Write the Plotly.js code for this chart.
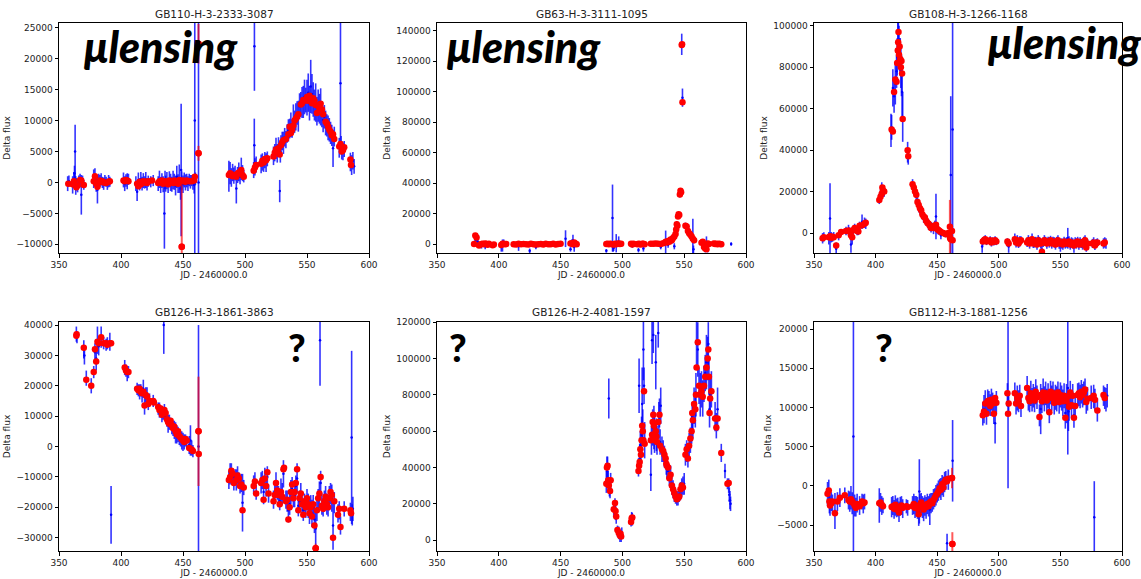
<!DOCTYPE html>
<html>
<head>
<meta charset="utf-8">
<script src="https://cdn.plot.ly/plotly-3.0.1.min.js"></script>
<style>html,body{margin:0;padding:0;background:#fff;}#chart{width:1141px;height:579px;}</style>
</head>
<body>
<div id="chart"></div>
<script>
// ---------- DATA : [JD-2460000, delta flux, error] ----------
const titles = ["GB110-H-3-2333-3087","GB63-H-3-3111-1095","GB108-H-3-1266-1168","GB126-H-3-1861-3863","GB126-H-2-4081-1597","GB112-H-3-1881-1256"];
const xTicks = [350,400,450,500,550,600];
const yDticks = [5000,20000,20000,10000,20000,5000];
const yRanges = [[-11400,25750],[-5900,145000],[-9600,101300],[-34400,41000],[-6000,120100],[-8300,20900]];
const labels = ["μlensing","μlensing","μlensing","?","?","?"];

const p1Blue = [[357,-200,1200],[358,200,900],[361,-400,1400],[362,400,1300],[362.5,1500,1200],[363,5000,4300],[363.5,-500,1500],[364,-300,1000],[365,-700,900],[366,200,900],[367,300,1100],[368,-2000,3200],[369,200,900],[370,-400,800],[378,600,1500],[379,1000,1300],[380,-300,1200],[381,-1200,2200],[382,300,1100],[383,200,1000],[384,500,1000],[385,0,900],[386,-200,1000],[387,300,900],[388,100,800],[389,-300,900],[390,200,1000],[391,100,800],[402,400,1200],[403,-200,1200],[404,300,1000],[405,200,1300],[406,500,900],[412,-200,1200],[413,-1500,1500],[414,300,1300],[415,-300,1000],[416,500,1200],[417,-200,1100],[418,300,1200],[419,0,1000],[420,400,1300],[421,-300,1000],[422,200,900],[424,100,900],[426,300,900],[430,-200,1200],[431,500,1400],[432,-400,1300],[433,300,1200],[434,-300,1300],[435,-5000,5700],[435.5,400,1500],[436,-200,1300],[437,300,1400],[438,-500,1200],[439,500,1300],[440,0,1400],[441,-300,1200],[442,400,1500],[443,100,1300],[444,-500,1600],[445,900,1800],[446,-200,1500],[447,600,2300],[448,-1000,1800],[448.5,2000,10700],[449,300,1500],[450,-300,1400],[451,400,1200],[452,0,1300],[453,300,1100],[454,-200,1200],[455,400,1000],[456,100,1100],[457,300,900],[458,0,1200],[459,-400,1400],[459.5,10000,25000],[460,600,1000],[462.5,0,30000],[487,1000,2500],[488,1500,1800],[489,800,1500],[490,1600,1400],[491,1100,1300],[492,1500,1200],[493,-1000,2400],[494,1200,1300],[495,1700,1500],[496,900,1200],[497,2200,1800],[498,1500,1300],[499,1000,1000],[507,2000,1300],[507.5,6000,4300],[507.6,22000,7200],[508,2500,1400],[509,2900,1300],[513,3000,1500],[514,3300,1400],[515,2900,1200],[516,3600,1300],[517,3200,1500],[518,3800,1200],[523,4300,1500],[524,4800,1400],[525,5500,1700],[526,4700,1500],[527,5700,1600],[528,-1400,1800],[528.5,4900,1700],[529,6100,1500],[530,6700,1500],[531,6400,1800],[532,7300,1500],[533,6900,1400],[534,7900,1500],[535,8400,1800],[536,8700,1600],[537,9300,2000],[538,8700,1500],[539,10200,2400],[540,9800,1800],[541,10600,2200],[542,11200,1900],[543,10700,2500],[544,12300,2100],[545,12600,2000],[546,12900,2500],[547,13000,2600],[548,13800,2800],[549,13300,2000],[550,13700,2900],[551,14500,3100],[552,12800,2800],[553,15500,4300],[554,14300,3200],[555,13400,2800],[556,12500,2500],[557,12900,3100],[558,11500,2300],[559,12400,2600],[560,11900,2400],[561,12200,3000],[562,11000,2100],[563,10100,2000],[564,10600,1900],[565,9600,2000],[566,9200,1800],[567,8800,2000],[568,8500,1900],[569,8000,1800],[570,7600,1700],[571,5500,3000],[572,7400,1600],[576,5600,1600],[577,16000,11000],[577.5,6000,1500],[578,5200,1500],[579,5000,1400],[580,5400,1300],[585,3300,1500],[586,2800,1600],[587,3500,1400],[588,2600,1200]];
const p1Red = [[357.5,-200],[361,-300],[362,200],[363,-400],[364,-800],[365,-500],[367,400],[368,300],[370,-400],[378,200],[379,1000],[380,-200],[381,-700],[382,0],[383,300],[385,200],[386,0],[388,-100],[390,100],[391,200],[402,300],[403,200],[404,400],[405,300],[406,200],[413,-200],[414,-600],[415,100],[416,-300],[418,200],[419,0],[420,100],[421,-100],[422,200],[425,300],[430,-100],[431,200],[432,0],[433,300],[434,-200],[435,100],[436,200],[437,0],[438,-300],[439,300],[440,100],[441,200],[442,-100],[443,300],[444,0],[445,200],[446,-200],[447,400],[448,100],[449,-10400],[450,300],[451,200],[452,100],[453,300],[455,200],[457,200],[459,300],[459.5,900],[462.5,4700],[462.5,22400],[487,1200],[488,1500],[489,1300],[490,1000],[492,1200],[493,900],[494,1400],[495,1600],[497,2000],[498,1200],[499,900],[507,1900],[508,2400],[509,2800],[513,3000],[514,3500],[515,3200],[516,3800],[517,3600],[518,3900],[523,4200],[524,4800],[525,5300],[526,5000],[527,5500],[528,4500],[529,6000],[530,6500],[531,6800],[533,7000],[535,7800],[536,9000],[537,8000],[538,8500],[539,9200],[540,10000],[541,10300],[542,10600],[543,11000],[545,12600],[546,12800],[547,13300],[548,13200],[550,13800],[551,13200],[552,14000],[553,13500],[554,12800],[555,13600],[556,13200],[557,12500],[558,11200],[559,12400],[560,12000],[561,12700],[562,11800],[563,11000],[565,9800],[566,9500],[567,9000],[568,8500],[569,8200],[570,7600],[571,7800],[572,7000],[576,5800],[577,6200],[578,5000],[579,5200],[580,5700],[585,3700],[585.5,2800]];
const p1RedBars = [[449,-10400,10000],[462.5,22400,3200],[462.5,4700,1200]];

const p2Blue = [[380,0,800],[381,3000,1500],[382,2500,1500],[383,1500,2500],[384,-1000,1200],[385,-500,1000],[386,-1000,2000],[387,0,1500],[388,-500,1500],[389,-1500,2000],[390,0,2000],[391,-800,1200],[392,0,1000],[395,-800,1000],[396,-300,900],[402,-2000,3000],[403,-1000,4000],[404,500,2500],[405,0,1200],[406,-300,1000],[412,-300,1000],[414,-600,1200],[416,-1500,3000],[418,200,1500],[420,-300,1000],[422,-500,1000],[424,-200,900],[425,-4500,1500],[426,0,1000],[428,-300,900],[430,-2000,1500],[432,-300,1000],[434,0,900],[436,-500,1000],[438,200,900],[440,-300,900],[442,-500,1000],[444,0,900],[446,-300,800],[448,200,800],[450,0,900],[454,3500,5500],[458,-3500,1500],[459,1000,2000],[460,2500,3500],[461,-2000,3000],[462,500,2000],[463,-300,1200],[487,-4500,1200],[488,0,1000],[489,-500,1200],[490,200,1000],[491,-300,1500],[492,17000,22000],[492.5,-2000,3000],[493,-2500,2000],[494,300,1200],[495,500,6000],[496,-300,1200],[497,1500,3500],[498,-500,1200],[499,200,1000],[507,300,1200],[508,-1000,1500],[509,0,1000],[512,-500,1000],[513,-4000,1500],[514,0,1200],[515,-500,1000],[516,300,1000],[517,-3000,2000],[518,0,1000],[523,100,1000],[525,300,1000],[527,0,1200],[529,200,1000],[531,-2000,1500],[533,400,1200],[535,800,8000],[536,1200,1500],[537,-500,2000],[538,1500,1500],[539,3200,1800],[540,2000,1800],[541,3800,1500],[542,-1500,2000],[543,6000,2500],[544,13000,2000],[545,18500,2000],[546,19500,1500],[546.5,33000,2500],[547,34500,2000],[548,131000,7000],[548.6,96000,6000],[551,12500,1500],[552,11000,2000],[553,9000,3000],[554,7500,2000],[555,6000,2500],[556,4500,2500],[557,4500,12000],[557.5,-3500,2500],[558,2000,1500],[564,1000,1500],[565,1200,1800],[566,-1500,2000],[567,-2500,3000],[568,0,5000],[569,-3000,2500],[570,300,1200],[574,200,1000],[576,0,1000],[578,200,1000],[580,-200,1000],[588,0,1200]];
const p2Red = [[380,0],[381,5500],[382,4200],[384,-1000],[385,-300],[386,0],[387,100],[388,-200],[389,300],[390,0],[391,-500],[392,100],[395,-800],[396,-300],[402,-700],[403,100],[404,200],[405,-100],[406,0],[412,-100],[414,-300],[416,200],[418,-100],[420,0],[422,-200],[424,-300],[426,100],[428,-200],[430,-300],[432,-100],[434,0],[436,-300],[438,200],[440,-100],[442,-200],[444,100],[446,-300],[448,0],[450,200],[458,300],[459,500],[460,-200],[461,1000],[462,400],[463,-100],[487,0],[488,100],[489,-200],[490,200],[491,0],[492,-100],[493,-300],[494,100],[495,-100],[496,200],[497,300],[498,0],[499,200],[507,100],[508,-400],[509,200],[512,-200],[513,100],[514,0],[515,-300],[516,200],[517,100],[518,-200],[523,100],[525,200],[527,300],[529,100],[531,0],[533,500],[535,1500],[536,1000],[537,2000],[538,1500],[539,3000],[540,2500],[541,4000],[542,5000],[543,6500],[543.5,9500],[544,13000],[544.5,12000],[545,18000],[545.5,19500],[546,19000],[546.5,32500],[547,35000],[547.5,34000],[548,130500],[548.3,131000],[548.6,93000],[551,12000],[552,11500],[553,8500],[554,7000],[555,6000],[556,5000],[557,3500],[558,2500],[564,800],[565,1500],[566,-2000],[567,-3000],[568,-3500],[569,300],[570,0],[574,300],[575,0],[576,200],[577,-100],[578,100],[579,0],[580,-200]];
const p2RedBars = [];

const p3Blue = [[357,-2500,2500],[358,-1800,2200],[362,-2500,3000],[363,7000,17000],[364,-2000,2500],[365,-2200,2000],[366,-1500,2000],[368,-7500,3000],[370,-1500,2000],[372,300,1500],[376,1000,2000],[378,1500,2500],[379,700,2000],[380,-5500,4000],[381,-2500,3000],[382,1500,2000],[383,2500,2000],[385,1200,2200],[386,1000,2000],[387,3000,2500],[389,5500,3500],[391,5000,2500],[392,4500,2500],[403,16500,2500],[404,18000,3000],[405,21500,3000],[406,20000,2500],[407,19500,2000],[412.5,49500,8000],[413,51000,6000],[414,70000,9000],[415,66000,8000],[416,72000,10000],[417,78000,8000],[417.5,85000,9000],[418,92000,10000],[418.5,96000,9000],[419,90000,10000],[419.5,86000,8000],[420,85000,9000],[420.5,80000,10000],[421,76000,10000],[421.5,68000,12000],[422,56000,12000],[426,39000,5000],[426.5,37000,4000],[430,23500,2500],[431,21500,3000],[432,20000,2500],[433,17500,3000],[434,15500,2500],[435,13000,3000],[436,11500,2500],[437,10500,2500],[438,9000,2500],[439,7500,2500],[440,7000,2000],[441,6000,2500],[442,5200,2000],[443,4000,2500],[444,3500,2000],[445,2800,2500],[446,3000,2000],[447,2000,2500],[448,3500,2500],[449,8000,11000],[450,1800,2000],[451,1200,2000],[452,800,1500],[453,-1000,2000],[455,-200,1500],[457,-500,1500],[459,-300,1500],[461,28000,38000],[462.5,50000,60000],[486.5,-6500,3000],[487,-4000,2000],[488,-3500,1800],[489,-3000,2000],[490,-4000,1800],[493,-3500,2000],[494,-4500,2000],[495,-3800,1800],[496,-4200,1800],[497,-3500,2000],[498,-4000,1800],[507,-4500,2000],[508,-6500,3000],[513,-3000,2800],[514,-4500,2500],[515,-3500,2500],[516,-5000,2200],[517,-4000,2500],[518,-3500,2000],[523,-4500,2200],[524,-3500,2500],[525,-5000,2500],[526,-4000,2200],[527,-3000,2800],[528,-5000,2200],[529,-4500,2500],[530,-4000,2200],[531,-5500,2500],[532,-3500,2500],[533,-4000,2200],[534,-5000,2500],[535,-8000,2500],[536,-4500,2200],[537,-3500,2500],[538,-4000,2200],[539,-5000,2500],[540,-4000,2200],[541,-4500,2500],[542,-3500,2200],[543,-5000,2500],[544,-4000,2200],[545,-4500,2500],[546,-5500,2500],[547,-4000,2200],[548,-3500,2500],[549,-5000,2500],[550,-6000,3000],[551,-5000,2500],[552,-5500,2500],[553,-4000,2200],[554,-5000,2500],[555,-4500,2500],[556,-2500,5000],[557,-4000,2500],[558,-5500,2500],[559,-4500,2500],[560,-5000,2500],[561,-6500,3000],[562,-4500,2500],[563,-5000,2500],[564,-4000,2200],[565,-5500,2500],[566,-4500,2500],[567,-5000,2200],[568,-5500,2500],[569,-4000,2200],[570,-3500,2500],[571,-6000,3000],[572,-5000,2200],[576,-5000,2200],[577,-4500,2500],[578,-6000,2200],[579,-5000,2200],[580,-4500,2000],[585,-5000,2500],[586,-4500,2500],[587,-5000,2500]];
const p3Red = [[357,-2500],[358,-2000],[362,-2000],[363,-1500],[364,-2200],[365,-1800],[366,-2000],[368,-6000],[370,-1000],[372,500],[376,1000],[378,1200],[379,800],[380,-1000],[381,-2000],[382,1500],[383,2500],[385,1000],[386,800],[387,3500],[389,3800],[391,4500],[392,5000],[403,16000],[404,17500],[405,19000],[405.5,22000],[406,20500],[407,20000],[413,50000],[414,49000],[415,68000],[416,74000],[417,73000],[417.5,82000],[418,88000],[418.3,92000],[418.6,97000],[419,86000],[419.5,90000],[420,84000],[420.5,80000],[421,83000],[421.5,77000],[422,55000],[426,40000],[426.5,37000],[430,23500],[431,22000],[432,20000],[433,18500],[434,15000],[435,13500],[436,12000],[437,11000],[438,9000],[439,8000],[440,7500],[441,6000],[442,5000],[443,4500],[444,3500],[445,2500],[446,3000],[447,2500],[448,3500],[449,4000],[450,2000],[451,1500],[452,1000],[453,500],[455,0],[457,-500],[459,0],[460,-1000],[460.5,-2500],[461,-3000],[462,1000],[462.5,-3500],[487,-4000],[488,-3500],[489,-3000],[490,-4000],[493,-3500],[494,-4500],[495,-3800],[496,-4200],[497,-3500],[498,-4000],[507,-4000],[508,-5000],[513,-3000],[514,-4500],[515,-3500],[516,-5000],[517,-4000],[518,-3500],[523,-4500],[524,-3500],[525,-5000],[526,-4000],[527,-3000],[528,-5000],[529,-4500],[530,-4000],[531,-5500],[532,-3500],[533,-4000],[534,-5000],[535,-9000],[536,-4500],[537,-3500],[538,-4000],[539,-5000],[540,-4000],[541,-4500],[542,-3500],[543,-5000],[544,-4000],[545,-4500],[546,-5500],[547,-4000],[548,-3500],[549,-5000],[550,-4500],[551,-5000],[552,-5500],[553,-4000],[554,-5000],[555,-4500],[556,-5000],[557,-4000],[558,-5500],[559,-4500],[560,-5000],[561,-6000],[562,-4500],[563,-5000],[564,-4000],[565,-5500],[566,-4500],[567,-5000],[568,-5500],[569,-4000],[570,-3500],[571,-7000],[572,-5000],[576,-5000],[577,-4500],[578,-6000],[579,-5000],[580,-4500],[585,-5000],[586,-4500]];
const p3RedBars = [[460.3,3000,13000]];

const p4Blue = [[364,37000,2500],[364.5,36000,2000],[370,32000,3000],[370.5,30000,3000],[372,22500,2500],[376,20000,2500],[378,24500,2000],[379,31000,3000],[380,29000,4000],[381,35000,4500],[382,33000,3000],[384,36000,3500],[386,34000,2000],[388,33500,2000],[389,34000,2000],[391,34500,3000],[392,-22500,9500],[403,26000,2500],[404,25000,2000],[405,24000,2500],[406,24500,2000],[413,19000,2000],[414,18500,2000],[415,18000,2500],[416,18500,2000],[417,17000,2500],[418,19000,3000],[419,14000,3500],[420,17000,2500],[421,16500,3000],[422,14500,2500],[423,15500,2000],[426,15000,2000],[430,12500,2000],[431,12000,2500],[432,11500,2000],[433,10500,2500],[434,10800,2000],[434.5,40000,9500],[435,11500,2500],[436,10000,2000],[437,9000,2500],[438,7500,3000],[439,8000,2500],[440,7500,2000],[441,6500,2500],[442,6000,2500],[443,5500,3000],[444,4500,3500],[445,4000,3000],[446,4000,2500],[447,3000,2500],[448,2500,2500],[449,2000,3000],[450,1500,3000],[451,1500,2500],[452,2000,2000],[453,1500,2000],[455,500,3000],[456,2000,5000],[457,-500,2500],[458,-1500,2000],[462.5,0,40000],[487,-11000,3000],[488,-9000,3500],[489,-8500,3000],[490,-10000,2500],[491,-11500,3000],[492,-10000,2500],[493,-11000,3500],[494,-9500,3000],[495,-11000,2500],[496,-12500,3000],[497,-12000,3000],[498,-18500,9500],[499,-13500,2500],[507,-12500,3000],[508,-11000,2500],[509,-15000,2500],[513,-12000,3500],[514,-11000,3000],[515,-15000,4000],[516,-10500,3500],[517,-13000,3500],[518,-10000,3500],[519,-15500,3000],[523,-17500,3000],[524,-15500,3500],[525,-12500,4000],[526,-14500,3000],[527,-16500,3500],[528,-18000,3000],[529,-14500,4000],[530,-15500,3500],[531,-9000,4500],[533,-17500,3000],[534,-18000,3500],[535,-21000,4000],[536,-19000,3500],[537,-15000,4000],[538,-14000,4000],[539,-17000,3000],[540,-16000,4000],[541,-13000,3500],[542,-10500,5000],[543,-19500,3500],[544,-18000,3500],[545,-16000,4000],[546,-19500,3500],[547,-21000,3500],[548,-18500,3000],[549,-20000,3500],[550,-17500,3500],[551,-19500,4000],[552,-21500,4000],[553,-19500,3500],[554,-22000,4500],[555,-20000,4000],[556,-24000,4500],[557,-27000,6000],[558,-20500,4000],[559,-17500,3500],[560,-16000,4500],[560.5,35000,15000],[561,-12000,4000],[562,-19000,3500],[563,-20000,3000],[564,-18000,3500],[565,-17000,4000],[566,-19000,3500],[567,-19500,3500],[568,-17000,4000],[569,-15500,3500],[570,-17000,4500],[571,-26000,8000],[572,-18500,3500],[575,-22000,3000],[576,-21000,3000],[577,-26000,3000],[580,-20500,2500],[585,-21500,3000],[586,3000,28500],[586.5,-22500,3500],[587,-20500,4000]];
const p4Red = [[364,36500],[364.2,37000],[370,32500],[372,22000],[376,20000],[378,24500],[379,32000],[380,28000],[381,34500],[382,34000],[384,36000],[386,34000],[388,34000],[389,33500],[391,34000],[392,34000],[403,26000],[404,25000],[405,24500],[406,24500],[413,19000],[414,18500],[415,19000],[416,18000],[417,17500],[418,18000],[419,13500],[420,17000],[421,16500],[422,14000],[423,15000],[426,15000],[426.5,14500],[430,13000],[431,12000],[432,12500],[433,10500],[434,11000],[435,12000],[436,11000],[437,9000],[438,8000],[439,7500],[440,8500],[441,7000],[442,6000],[443,6500],[444,5000],[445,4000],[446,5000],[447,3500],[448,3000],[449,2500],[450,2000],[451,1500],[452,2500],[453,2000],[455,-500],[457,-1000],[458,-1500],[462.5,5000],[462.7,-2500],[487,-11000],[488,-10000],[489,-8000],[490,-9000],[491,-12000],[493,-11000],[494,-9500],[495,-10500],[496,-13000],[497,-12500],[498,-21000],[499,-13500],[507,-13000],[508,-11500],[509,-15500],[513,-12000],[514,-11000],[515,-17500],[516,-10500],[517,-13000],[518,-8500],[519,-15500],[523,-18000],[524,-16000],[525,-12000],[526,-14500],[527,-16000],[528,-19000],[529,-15000],[530,-16500],[531,-7500],[531.5,-7000],[533,-18000],[534,-17500],[535,-24000],[536,-20000],[537,-15000],[538,-12500],[539,-17000],[540,-15000],[541,-12000],[542,-7500],[543,-21000],[544,-17000],[545,-15500],[546,-19000],[547,-22500],[548,-18000],[549,-20000],[550,-17000],[551,-19000],[552,-22000],[553,-20000],[554,-23000],[555,-19000],[556,-26000],[557,-33500],[558,-21000],[559,-17000],[560,-15500],[561,-10000],[562,-19500],[563,-20500],[564,-18000],[565,-16500],[566,-19000],[567,-20000],[568,-17000],[569,-15000],[570,-16000],[571,-30000],[572,-18000],[575,-22500],[576,-20500],[577,-26500],[580,-20500],[585,-21000],[585.5,-22000]];
const p4RedBars = [[462.5,5000,18000],[557,-33500,1500]];

const p5Blue = [[487,32000,6000],[487.5,38000,8000],[488,40000,6000],[488.5,33000,5000],[489,78000,11000],[489.5,29000,5000],[490,27000,4000],[490.5,32000,5000],[493,16500,4000],[494,20000,3000],[494.5,15000,4000],[495,12500,3500],[496,5000,3000],[497,4000,3500],[498,2500,3500],[499,2000,3000],[499.5,4000,3000],[507,10500,3000],[507.5,12000,3500],[508,11500,3500],[513,40000,5000],[513.5,85000,15000],[514,45000,8000],[514.5,52000,8000],[515,48000,7000],[515.5,58000,10000],[516,75000,20000],[516.5,62000,10000],[517,105000,17000],[517.5,85000,10000],[518,55000,10000],[523,36000,9000],[523.5,55000,8000],[524,110000,13000],[524.5,62000,10000],[525,113000,10000],[525.5,62000,12000],[526,58000,10000],[527,98000,15000],[527.5,58000,9000],[528,55000,8000],[529,114000,8000],[529.5,66000,10000],[530,70000,8000],[530.5,54000,7000],[531,74000,10000],[532,50000,7000],[533,49000,6000],[534,46000,6000],[535,44000,5000],[535.5,42000,6000],[536,40000,6000],[537,38000,5000],[538,35000,5000],[539,36000,5000],[540,31000,6000],[541,28000,5000],[542,26000,5000],[543,24000,4000],[544,23000,4000],[545,23000,4000],[546,25000,4000],[547,27000,5000],[548,29000,5000],[549,30000,5000],[550,31000,6000],[551,47000,6000],[552,49000,6000],[553,46000,6000],[554,52000,7000],[555,55000,7000],[556,61000,8000],[556.5,68000,8000],[557,65000,9000],[558,74000,10000],[559,72000,10000],[559.5,80000,12000],[560,108000,13000],[561,105000,15000],[562,85000,10000],[563,80000,12000],[564,83000,10000],[565,78000,10000],[566,86000,10000],[567,92000,10000],[568,98000,15000],[569,100000,12000],[569.5,108000,12000],[570,90000,10000],[570.5,72000,10000],[571,80000,10000],[572,83000,10000],[575,68000,8000],[576,63000,7000],[577,72000,12000],[580,48000,5000],[583,38000,4000],[585,31000,3000],[586,30000,4000],[586.5,25000,4000],[587,22000,5000],[587.5,20000,4000]];
const p5Red = [[487,31000],[487.5,40000],[488,41000],[488.5,33000],[489,30000],[490,27000],[490.5,33000],[493,17000],[494,20500],[494.5,16000],[495,13000],[496,5500],[497,4000],[498,2500],[498.5,3500],[499,2000],[507,10000],[507.5,12000],[508,12500],[513,38000],[513.5,41000],[514,43000],[514.5,50000],[515,47000],[515.5,55000],[516,63000],[516.5,60000],[517,55000],[517.5,82000],[518,53000],[523,55000],[524,58000],[524.5,65000],[525,69000],[525.5,63000],[526,55000],[527,60000],[527.5,57000],[528,54000],[529,65000],[530,69000],[530.5,52000],[532,50000],[533,49000],[534,47000],[535,45000],[535.5,42000],[536,41000],[537,40000],[538,34000],[539,36000],[540,30000],[541,28000],[542,26000],[543,24000],[544,22500],[545,23000],[546,24000],[547,28000],[548,30000],[549,29000],[551,47000],[552,50000],[553,45000],[554,52000],[555,56000],[556,60000],[556.5,70000],[557,66000],[558,75000],[559,72000],[559.5,80000],[560,95000],[561,109000],[562,85000],[563,80000],[564,82000],[565,79000],[566,85000],[567,90000],[568,95000],[569,100000],[569.5,105000],[570,90000],[570.5,70000],[571,78000],[572,82000],[575,67000],[576,62000],[577,67000],[580,48000],[585,31000],[586,31500]];
const p5RedBars = [];

const p6Blue = [[361,-1000,1500],[362,-500,1300],[362.5,-2000,1500],[363,-2500,1300],[364,-2000,1200],[365,-2300,1200],[367,-3200,2300],[369,-2000,1200],[371,-1500,1200],[375,-1200,1000],[378,-1800,1200],[379,-2000,1300],[380,-1500,1500],[381,-2200,1400],[382,6300,14600],[383,-2500,1400],[384,-2700,1200],[385,-2200,1200],[387,-2500,1200],[389,-2000,1000],[390,-2300,1200],[391,-2000,1000],[403,-2500,2200],[404,-2100,1200],[405,-2500,1200],[406,-2500,1000],[413,-2700,1300],[414,-2500,1200],[415,-3000,1200],[416,-2500,1300],[417,-2800,1200],[418,-2700,1200],[419,-3300,1300],[420,-2600,1200],[421,-2500,1200],[422,-2900,1200],[425,-2600,900],[426,-2800,1000],[430,-2500,1200],[431,-2300,1300],[432,-2700,1400],[433,-2600,1300],[434,-2800,1400],[435,-3500,1600],[435.5,-700,4100],[436,-2500,1500],[437,-2200,1300],[438,-2700,1400],[439,-3000,1500],[440,-2500,1300],[441,-2800,1400],[442,-2300,1300],[443,-2600,1300],[444,-3000,2000],[445,-2200,1300],[446,-2100,1200],[447,-1700,1300],[448,-1500,1200],[449,-1200,1300],[450,-900,1200],[451,-600,1300],[452,-300,1200],[453,-400,1400],[454,100,1300],[455,-100,1300],[456,500,1300],[457,700,1200],[458,-7300,1200],[459,800,1300],[462.5,3200,5200],[487,9200,1500],[488,9800,1800],[489,10500,1700],[490,9300,1500],[491,10800,1500],[492,10600,1500],[493,10300,1400],[494,11000,1400],[495,10400,1500],[496,9400,1500],[497,8000,2600],[498,10600,1500],[507,11600,1500],[507.5,10300,10600],[508,10600,1400],[513,11700,1500],[514,10500,1400],[515,11200,1600],[516,10800,1400],[517,11400,1500],[518,10300,1500],[523,12500,1500],[524,11200,1600],[525,10900,1500],[526,11800,1600],[527,11000,1500],[528,11500,1500],[529,11000,1600],[530,12000,1600],[531,11300,1500],[533,9000,1400],[534,9800,3200],[535,10900,1600],[536,12000,1700],[537,11100,1600],[538,11800,1500],[539,10900,1500],[540,11500,1600],[541,9700,1700],[542,11900,1500],[543,11200,1600],[544,11800,1500],[545,10700,1600],[546,11300,1600],[547,11100,1600],[548,11800,1500],[549,10800,1600],[550,11600,1600],[551,11200,1600],[552,10600,1700],[553,11500,1600],[554,9300,2000],[555,10500,2500],[556,12500,8500],[556.5,9500,2500],[557,10300,2000],[558,11800,1600],[559,10400,1800],[560,11400,1600],[561,9000,1600],[562,10300,1500],[564,11600,1500],[565,11700,1500],[566,11400,1500],[567,12000,1500],[568,11500,1500],[569,11800,1500],[570,12200,1500],[571,10800,1600],[572,11100,1500],[575,11300,1500],[577,11400,1500],[577.5,-4000,4600],[578,11000,1400],[580,9700,1500],[585,11500,1300],[586,11200,1400],[587,11000,1500],[588,11500,1500]];
const p6Red = [[361,-1000],[362,-600],[362.5,-2000],[363,-2500],[364,-2200],[365,-2000],[367,-3500],[369,-2000],[371,-1500],[375,-1200],[378,-1800],[379,-2000],[380,-1700],[381,-2000],[382,-2200],[383,-2500],[384,-2800],[385,-2300],[387,-2600],[389,-2000],[390,-2200],[391,-2100],[403,-2200],[404,-2100],[405,-2400],[406,-2600],[413,-2700],[414,-2600],[415,-2900],[416,-2400],[417,-3000],[418,-2700],[419,-3400],[420,-2700],[421,-2500],[422,-2800],[425,-2600],[426,-2700],[430,-2600],[431,-2300],[432,-2800],[433,-2500],[434,-2900],[435,-3600],[436,-2500],[437,-2100],[438,-2700],[439,-3000],[440,-2500],[441,-2700],[442,-2300],[443,-2600],[444,-2100],[445,-2000],[446,-2200],[447,-1800],[448,-1500],[449,-1200],[450,-1000],[451,-700],[452,-300],[453,-500],[454,200],[455,-200],[456,500],[457,800],[458,600],[459,900],[462,1000],[462.3,-7400],[487,9000],[488,9500],[489,10500],[490,9200],[491,10800],[492,10900],[493,10200],[494,11000],[495,10500],[496,9200],[497,11200],[498,10600],[507,11800],[507.5,9200],[508,10500],[513,11800],[514,10500],[515,11200],[516,10800],[517,11500],[518,10200],[523,12500],[524,11200],[525,10800],[526,11800],[527,11000],[528,11500],[529,10900],[530,12000],[531,11300],[533,8800],[534,11600],[535,10800],[536,11900],[537,11200],[538,11800],[539,10900],[540,11500],[541,9400],[542,12000],[543,11200],[544,11800],[545,10600],[546,11400],[547,11100],[548,11900],[549,10700],[550,11600],[551,11200],[552,10800],[553,11500],[554,8700],[555,10800],[556,11400],[557,10100],[558,11900],[559,10300],[560,11500],[561,8700],[562,10200],[564,11600],[565,11800],[566,11300],[567,12000],[568,11600],[569,11900],[570,12300],[571,10700],[572,11100],[575,11200],[577,11500],[578,11000],[580,9600],[585,11600],[586,11200]];
const p6RedBars = [[462,1000,1300],[462.3,-7400,1500]];

// ---------- LAYOUT GEOMETRY (pixels) ----------
const W = 1141, H = 579;
const colPx = [[59,369],[437,746],[814,1122]];
const rowPx = [[23,253],[322,551]];

const panels = [
  {blue:p1Blue, red:p1Red, bars:p1RedBars},
  {blue:p2Blue, red:p2Red, bars:p2RedBars},
  {blue:p3Blue, red:p3Red, bars:p3RedBars},
  {blue:p4Blue, red:p4Red, bars:p4RedBars},
  {blue:p5Blue, red:p5Red, bars:p5RedBars},
  {blue:p6Blue, red:p6Red, bars:p6RedBars}
];

const traces = [];
const layout = {
  width: W, height: H,
  margin: {l:0, r:0, t:0, b:0},
  paper_bgcolor: '#fff', plot_bgcolor: '#fff',
  showlegend: false,
  font: {family: 'DejaVu Sans, sans-serif', color: '#222'},
  annotations: [], shapes: []
};

panels.forEach((p, i) => {
  const n = i + 1;
  const xa = n === 1 ? 'x' : 'x' + n;
  const ya = n === 1 ? 'y' : 'y' + n;
  const col = i % 3, row = Math.floor(i / 3);
  traces.push({
    type: 'scatter', mode: 'markers', xaxis: xa, yaxis: ya,
    x: p.blue.map(d => d[0]), y: p.blue.map(d => d[1]),
    error_y: {type: 'data', array: p.blue.map(d => d[2]), visible: true, color: 'rgba(0,0,255,0.8)', thickness: 1.6, width: 0},
    marker: {color: 'blue', size: 2.5},
    hoverinfo: 'skip'
  });
  if (p.bars.length) {
    traces.push({
      type: 'scatter', mode: 'markers', xaxis: xa, yaxis: ya,
      x: p.bars.map(d => d[0]), y: p.bars.map(d => d[1]),
      error_y: {type: 'data', array: p.bars.map(d => d[2]), visible: true, color: 'rgba(255,0,0,0.65)', thickness: 2, width: 0},
      marker: {color: 'red', size: 6.5},
      hoverinfo: 'skip'
    });
  }
  traces.push({
    type: 'scatter', mode: 'markers', xaxis: xa, yaxis: ya,
    x: p.red.map(d => d[0]), y: p.red.map(d => d[1]),
    marker: {color: 'red', size: 6.5},
    hoverinfo: 'skip'
  });
  const axCommon = {
    showline: true, mirror: true, linecolor: '#000', linewidth: 1,
    ticks: 'outside', ticklen: 3.5, tickcolor: '#000', tickwidth: 1,
    showgrid: false, zeroline: false,
    tickformat: 'd',
    tickfont: {family: 'DejaVu Sans, sans-serif', size: 9, color: '#222'}
  };
  layout['xaxis' + (n === 1 ? '' : n)] = Object.assign({}, axCommon, {
    domain: [colPx[col][0] / W, colPx[col][1] / W],
    range: [350, 600], tickvals: xTicks, anchor: ya,
    title: {text: 'JD - 2460000.0', font: {size: 9, color: '#222'}, standoff: 2}
  });
  layout['yaxis' + (n === 1 ? '' : n)] = Object.assign({}, axCommon, {
    domain: [1 - rowPx[row][1] / H, 1 - rowPx[row][0] / H],
    range: yRanges[i], dtick: yDticks[i], tick0: 0, anchor: xa,
    title: {text: 'Delta flux', font: {size: 9, color: '#222'}, standoff: 4}
  });
  layout.annotations.push({
    xref: 'paper', yref: 'paper',
    x: (colPx[col][0] + colPx[col][1]) / 2 / W,
    y: 1 - (row === 0 ? 14 : 312) / H,
    xanchor: 'center', yanchor: 'middle', showarrow: false,
    text: titles[i], font: {family: 'DejaVu Sans, sans-serif', size: 10.5, color: '#222'}
  });
});

const labelPos = [[160,47,'center'],[523,47,'center'],[985,42,'left'],[297,347,'center'],[458,347,'center'],[884,347,'center']];
labels.forEach((t, i) => {
  const isQ = t === '?';
  layout.annotations.push({
    xref: 'paper', yref: 'paper',
    x: labelPos[i][0] / W, y: 1 - labelPos[i][1] / H,
    xanchor: labelPos[i][2], yanchor: 'middle', showarrow: false,
    text: t,
    font: {family: 'Lato, Open Sans, sans-serif', size: isQ ? 38 : 43, weight: 900, style: isQ ? 'normal' : 'italic', color: '#000'}
  });
});

Plotly.newPlot('chart', traces, layout, {staticPlot: true, displayModeBar: false});
</script>
</body>
</html>
